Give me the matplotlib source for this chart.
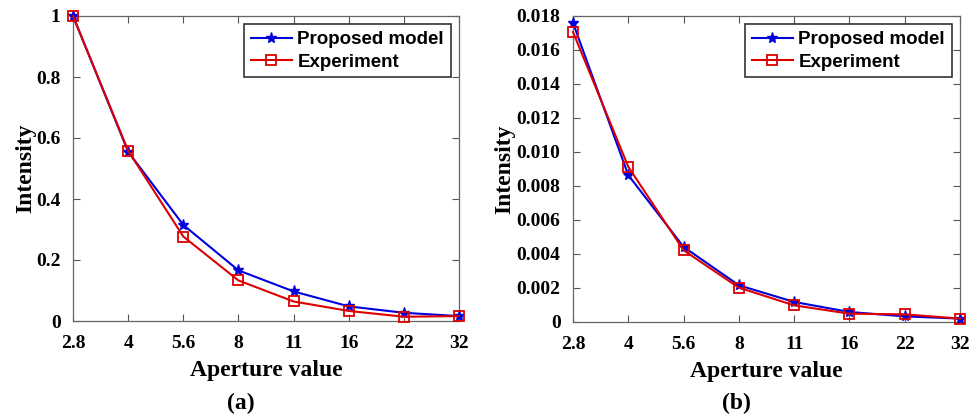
import matplotlib
matplotlib.use("Agg")
import matplotlib.pyplot as plt
from matplotlib.ticker import FixedLocator, FuncFormatter

apertures = ["2.8", "4", "5.6", "8", "11", "16", "22", "32"]
a_model = [1.0, 0.555, 0.315, 0.166, 0.097, 0.048, 0.027, 0.016]
a_exp = [1.0, 0.558, 0.277, 0.133, 0.064, 0.033, 0.014, 0.016]
b_model = [0.0176, 0.00864, 0.00442, 0.00216, 0.00118, 0.00059, 0.00033, 0.00020]
b_exp = [0.01706, 0.00913, 0.00422, 0.00202, 0.00098, 0.00049, 0.00045, 0.00020]

serif = "Liberation Serif"
sans = "Liberation Sans"

fig = plt.figure(figsize=(9.69, 4.17), dpi=100)
W, H = 969, 417
axa = fig.add_axes([73 / W, 1 - 321 / H, (459 - 73) / W, (321 - 16) / H])
axb = fig.add_axes([573 / W, 1 - 322 / H, (960 - 573) / W, (322 - 16) / H])

def style(ax, model, exp, yticks, fmt, ylim, panel, px, ylpad):
    x = list(range(len(apertures)))
    ax.plot(x, model, color="#0000dd", lw=1.5, marker="*", ms=8, label="Proposed model", clip_on=False, zorder=3)
    ax.plot(x, exp, color="#dd0000", lw=1.5, marker="s", ms=6.5, mfc="none", mew=1.3, label="Experiment", clip_on=False, zorder=3)
    ax.set_xlim(0, len(apertures) - 1)
    ax.set_ylim(*ylim)
    ax.set_xticks(x)
    ax.set_xticklabels(apertures)
    ax.yaxis.set_major_locator(FixedLocator(yticks))
    ax.yaxis.set_major_formatter(FuncFormatter(fmt))
    ax.tick_params(direction="in", top=True, right=True, length=5, width=0.8, color="#555555")
    ax.tick_params(axis="x", pad=10)
    ax.tick_params(axis="y", pad=9)
    for lab in ax.get_xticklabels() + ax.get_yticklabels():
        lab.set_fontfamily(serif)
        lab.set_fontweight("bold")
        lab.set_fontsize(14)
    for s in ax.spines.values():
        s.set_color("#666666")
        s.set_linewidth(0.9)
    ax.set_xlabel("Aperture value", fontfamily=serif, fontweight="bold", fontsize=17, labelpad=6)
    ax.set_ylabel("Intensity", fontfamily=serif, fontweight="bold", fontsize=17, labelpad=ylpad)
    leg = ax.legend(loc="upper right", prop={"family": sans, "weight": "bold", "size": 13.5},
                    frameon=True, fancybox=False, edgecolor="black", handlelength=2.2,
                    handletextpad=0.3, borderaxespad=0.45, labelspacing=0.3, borderpad=0.35)
    leg.get_frame().set_linewidth(1.2)
    fig.text(px / W, 1 - 409 / H, panel, ha="center", va="baseline",
             fontfamily=serif, fontweight="bold", fontsize=17)

def fmt_a(v, p):
    return "0" if v == 0 else ("1" if v == 1 else f"{v:.1f}")

def fmt_b(v, p):
    return "0" if v == 0 else f"{v:.3f}"

style(axa, a_model, a_exp, [0, 0.2, 0.4, 0.6, 0.8, 1.0], fmt_a, (0, 1.0), "(a)", 241, 0)
style(axb, b_model, b_exp, [0, 0.002, 0.004, 0.006, 0.008, 0.010, 0.012, 0.014, 0.016, 0.018], fmt_b, (0, 0.018), "(b)", 736, 1)

fig.savefig("out.png", dpi=100)
